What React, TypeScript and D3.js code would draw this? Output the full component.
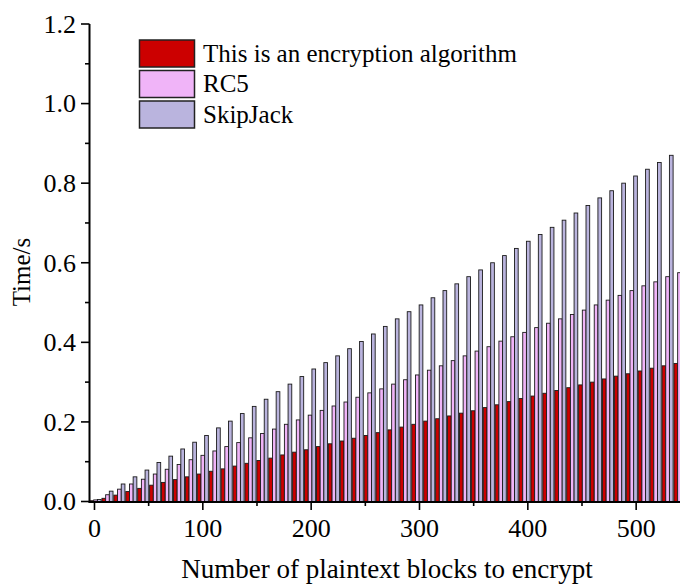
import React from "react";
import * as d3 from "d3";

// Number of plaintext blocks for each bar group
const blocks: number[] = Array.from({ length: 50 }, (_, i) => 1 + 11 * i);

// Encryption time in seconds for each algorithm
const ownAlgorithm: number[] = [
  0.002, 0.008, 0.016, 0.025, 0.033, 0.041, 0.048, 0.055, 0.062, 0.069,
  0.076, 0.082, 0.089, 0.096, 0.103, 0.109, 0.117, 0.124, 0.130, 0.138,
  0.145, 0.152, 0.159, 0.166, 0.173, 0.180, 0.187, 0.194, 0.202, 0.208,
  0.215, 0.222, 0.228, 0.236, 0.243, 0.251, 0.259, 0.265, 0.272, 0.279,
  0.286, 0.293, 0.300, 0.308, 0.315, 0.321, 0.328, 0.335, 0.341, 0.347,
];
const rc5: number[] = [
  0.004, 0.017, 0.031, 0.044, 0.056, 0.069, 0.081, 0.093, 0.105, 0.116,
  0.127, 0.138, 0.148, 0.160, 0.171, 0.182, 0.194, 0.205, 0.217, 0.229,
  0.240, 0.250, 0.262, 0.273, 0.283, 0.295, 0.306, 0.318, 0.330, 0.341,
  0.354, 0.366, 0.378, 0.389, 0.403, 0.414, 0.425, 0.437, 0.448, 0.459,
  0.470, 0.481, 0.494, 0.506, 0.518, 0.530, 0.542, 0.552, 0.565, 0.575,
];
const skipJack: number[] = [
  0.005, 0.026, 0.044, 0.062, 0.079, 0.098, 0.114, 0.132, 0.149, 0.166,
  0.185, 0.202, 0.221, 0.239, 0.257, 0.276, 0.295, 0.314, 0.333, 0.349,
  0.366, 0.384, 0.402, 0.421, 0.440, 0.459, 0.477, 0.494, 0.512, 0.530,
  0.547, 0.565, 0.582, 0.600, 0.618, 0.636, 0.654, 0.671, 0.689, 0.707,
  0.725, 0.744, 0.763, 0.781, 0.800, 0.818, 0.835, 0.852, 0.870, 0.887,
];

const seriesNames: string[] = ["This is an encryption algorithm", "RC5", "SkipJack"];
const seriesColors: string[] = ["#CC0000", "#F0B4F8", "#BAB4DE"];
const seriesValues: number[][] = [ownAlgorithm, rc5, skipJack];

const xMajorTicks: number[] = [0, 100, 200, 300, 400, 500];
const xMinorTicks: number[] = [50, 150, 250, 350, 450, 550];
const yMajorTicks: number[] = [0, 0.2, 0.4, 0.6, 0.8, 1.0, 1.2];
const yMinorTicks: number[] = [0.1, 0.3, 0.5, 0.7, 0.9, 1.1];

const W = 680;
const H = 585;
const FONT = "'Liberation Serif', 'Times New Roman', serif";

export default function App() {
  const x = d3.scaleLinear().domain([-4.6, 546]).range([89.5, 686]);
  const y = d3.scaleLinear().domain([0, 1.2]).range([501.5, 24]);
  const barW = 3.4; // width of one bar in block units
  const barPx = x(barW) - x(0);
  const fmt = d3.format(".1f");

  return (
    <svg
      width={W}
      height={H}
      style={{ position: "absolute", left: 0, top: 0, background: "#fff" }}
      fontFamily={FONT}
    >
      {/* bars */}
      <g>
        {seriesValues.map((vals, s) =>
          vals.map((v, i) => {
            const cx = x(blocks[i] + (s - 1) * barW);
            return (
              <rect
                key={`${s}-${i}`}
                x={cx - barPx / 2}
                y={y(v)}
                width={barPx}
                height={y(0) - y(v)}
                fill={seriesColors[s]}
                stroke="#1a1a1a"
                strokeWidth={0.9}
              />
            );
          })
        )}
      </g>

      {/* y axis */}
      <line x1={89.5} x2={89.5} y1={y(1.2)} y2={y(0) + 1} stroke="#000" strokeWidth={2} />
      {yMajorTicks.map((t) => (
        <g key={`ym${t}`}>
          <line x1={81} x2={89.5} y1={y(t)} y2={y(t)} stroke="#000" strokeWidth={1.6} />
          <text x={76} y={y(t)} dy="0.34em" textAnchor="end" fontSize={26}>
            {fmt(t)}
          </text>
        </g>
      ))}
      {yMinorTicks.map((t) => (
        <line key={`yn${t}`} x1={85} x2={89.5} y1={y(t)} y2={y(t)} stroke="#000" strokeWidth={1.6} />
      ))}

      {/* x axis */}
      <line x1={88.5} x2={W} y1={502} y2={502} stroke="#000" strokeWidth={2} />
      {xMajorTicks.map((t) => (
        <g key={`xm${t}`}>
          <line x1={x(t)} x2={x(t)} y1={502} y2={510} stroke="#000" strokeWidth={1.6} />
          <text x={x(t)} y={537} textAnchor="middle" fontSize={26}>
            {t}
          </text>
        </g>
      ))}
      {xMinorTicks.map((t) => (
        <line key={`xn${t}`} x1={x(t)} x2={x(t)} y1={502} y2={506} stroke="#000" strokeWidth={1.6} />
      ))}

      {/* axis titles */}
      <text x={387} y={578} textAnchor="middle" fontSize={27}>
        Number of plaintext blocks to encrypt
      </text>
      <text
        transform={`translate(30, 272) rotate(-90)`}
        textAnchor="middle"
        fontSize={25}
      >
        Time/s
      </text>

      {/* legend */}
      {seriesNames.map((name, s) => {
        const top = 40 + s * 30.5;
        return (
          <g key={name}>
            <rect
              x={139.5}
              y={top}
              width={55}
              height={27}
              fill={seriesColors[s]}
              stroke="#222"
              strokeWidth={1.5}
            />
            <text x={203} y={top + 21.5} fontSize={25}>
              {name}
            </text>
          </g>
        );
      })}
    </svg>
  );
}
